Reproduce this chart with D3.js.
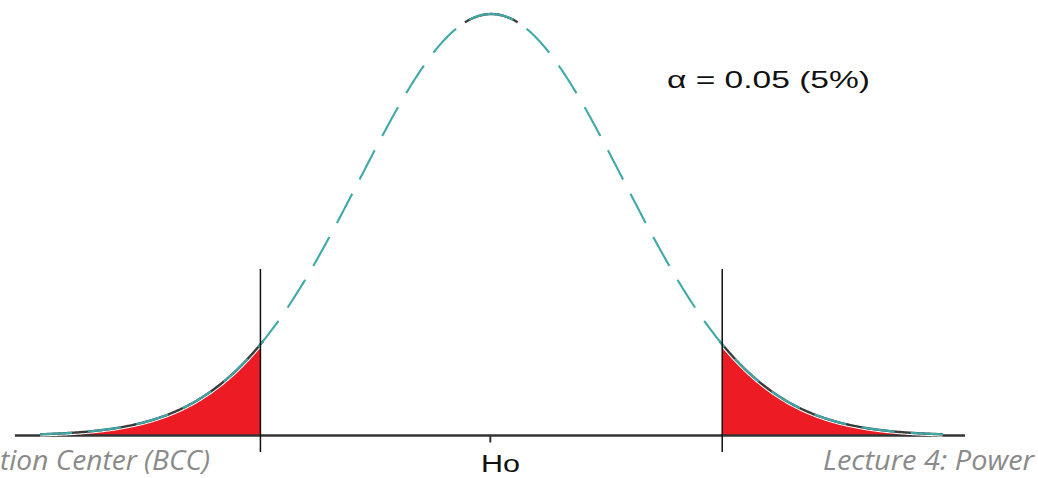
<!DOCTYPE html>
<html>
<head>
<meta charset="utf-8">
<script src="https://cdn.jsdelivr.net/npm/d3@7"></script>
<style>
  html, body { margin: 0; padding: 0; background: #fff; overflow: hidden; }
  svg { display: block; }
</style>
</head>
<body>
<svg id="chart" width="1038" height="478"></svg>
<script>
// Two-tailed test under H0: standard normal, rejection regions shaded in red
const axisExtent = [-3.61, 3.59];       // z range covered by the baseline
const curveExtent = [-3.42, 3.42];      // z range where the density is drawn
const criticalValues = [-1.75, 1.75];   // rejection boundaries
const centerValue = 0;
const centerLabel = "Ho";
const alphaLabel = "\u03B1 = 0.05 (5%)";
const footerLeft = "tion Center (BCC)";
const footerRight = "Lecture 4: Power";

const width = 1038, height = 478;
const svg = d3.select("#chart");

const x = d3.scaleLinear().domain([-3.61, 3.59]).range([15, 965]);
const pdf = z => Math.exp(-z * z / 2) / Math.sqrt(2 * Math.PI);
const y = d3.scaleLinear().domain([0, pdf(0)]).range([435.5, 14]);

const sample = (a, b, step = 0.01) => {
  const pts = d3.range(a, b + step / 2, step).map(z => ({ z, d: pdf(z) }));
  pts[pts.length - 1] = { z: b, d: pdf(b) };
  return pts;
};

const line = d3.line().x(p => x(p.z)).y(p => y(p.d)).curve(d3.curveBasis);
const area = d3.area().x(p => x(p.z)).y0(y(0)).y1(p => y(p.d)).curve(d3.curveBasis);

// shaded rejection regions
const leftTail = sample(curveExtent[0], criticalValues[0]);
const rightTail = sample(criticalValues[1], curveExtent[1]);
svg.selectAll("path.tail")
  .data([leftTail, rightTail])
  .join("path")
  .attr("class", "tail")
  .attr("d", area)
  .attr("fill", "#ed1c24");

// baseline
svg.append("line")
  .attr("x1", x(axisExtent[0])).attr("x2", x(axisExtent[1]))
  .attr("y1", y(0)).attr("y2", y(0))
  .attr("stroke", "#333").attr("stroke-width", 2.5);

// white halo and dark outline along the tails and the peak
const darkParts = [
  sample(curveExtent[0], criticalValues[0] + 0.02),
  sample(-0.2, 0.2),
  sample(criticalValues[1] - 0.02, curveExtent[1])
];
svg.selectAll("path.halo")
  .data([darkParts[0], darkParts[2]])
  .join("path")
  .attr("class", "halo")
  .attr("d", line)
  .attr("fill", "none")
  .attr("stroke", "#fff")
  .attr("stroke-width", 4.5);
svg.selectAll("path.outline")
  .data(darkParts)
  .join("path")
  .attr("class", "outline")
  .attr("d", line)
  .attr("fill", "none")
  .attr("stroke", "#3a3a3a")
  .attr("stroke-width", 2.4);

// dashed density curve, dashed outward from the peak
const halves = [sample(curveExtent[0], centerValue).reverse(), sample(centerValue, curveExtent[1])];
svg.selectAll("path.density")
  .data(halves)
  .join("path")
  .attr("class", "density")
  .attr("d", line)
  .attr("fill", "none")
  .attr("stroke", "#3fa9a8")
  .attr("stroke-width", 2.1)
  .attr("stroke-dasharray", "33,16")
  .attr("stroke-dashoffset", 10);

// critical value markers
svg.selectAll("line.crit")
  .data(criticalValues)
  .join("line")
  .attr("class", "crit")
  .attr("x1", d => x(d)).attr("x2", d => x(d))
  .attr("y1", 269).attr("y2", 452)
  .attr("stroke", "#111").attr("stroke-width", 1.5);

// tick at the mean
svg.append("line")
  .attr("x1", x(centerValue) - 1).attr("x2", x(centerValue) - 1)
  .attr("y1", y(0)).attr("y2", y(0) + 7)
  .attr("stroke", "#333").attr("stroke-width", 2);

// labels
svg.append("text")
  .attr("x", 481).attr("y", 472)
  .attr("font-family", "Liberation Sans, Arial, sans-serif")
  .attr("font-size", 23)
  .attr("fill", "#111")
  .attr("textLength", 39).attr("lengthAdjust", "spacingAndGlyphs")
  .text(centerLabel);

svg.append("text")
  .attr("x", 667).attr("y", 88)
  .attr("font-family", "Liberation Sans, Arial, sans-serif")
  .attr("font-size", 24)
  .attr("fill", "#111")
  .attr("textLength", 203).attr("lengthAdjust", "spacingAndGlyphs")
  .text(alphaLabel);

svg.append("text")
  .attr("x", 0).attr("y", 470)
  .attr("font-family", "Open Sans, sans-serif")
  .attr("font-style", "italic")
  .attr("font-size", 27)
  .attr("fill", "#8a8a8a")
  .attr("textLength", 210).attr("lengthAdjust", "spacingAndGlyphs")
  .text(footerLeft);

svg.append("text")
  .attr("x", 823).attr("y", 470)
  .attr("font-family", "Open Sans, sans-serif")
  .attr("font-style", "italic")
  .attr("font-size", 27)
  .attr("fill", "#8a8a8a")
  .attr("textLength", 211).attr("lengthAdjust", "spacingAndGlyphs")
  .text(footerRight);
</script>
</body>
</html>
